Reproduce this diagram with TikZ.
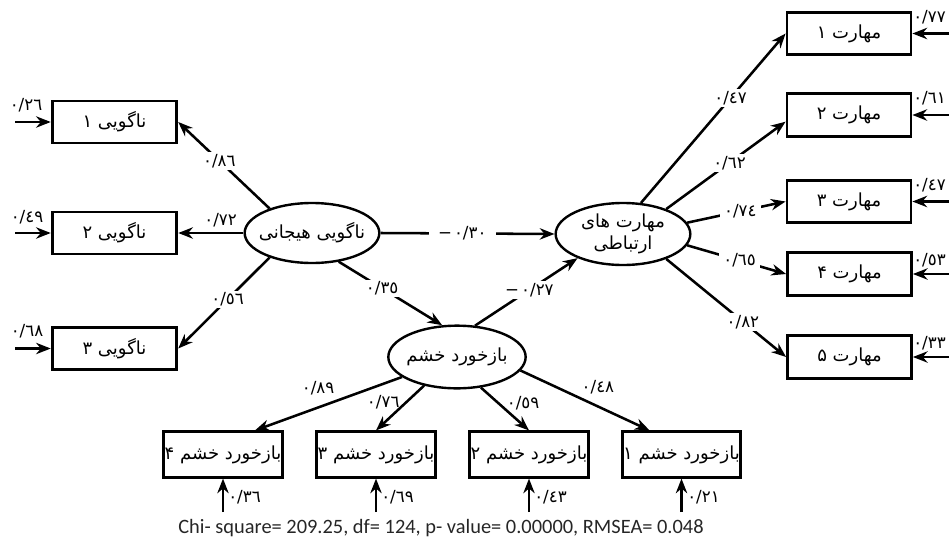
\documentclass[tikz,border=0pt]{standalone}
\usepackage{fontspec}
\setsansfont{Carlito}
\newfontfamily\arfont[Script=Arabic]{DejaVu Sans}
\TeXXeTstate=1
\usetikzlibrary{arrows.meta,shapes.geometric}
\newcommand\rtlz[1]{\makebox[0pt]{\beginR #1\endR}}
\newcommand\negnum[1]{\mbox{−}\kern1.5pt\mbox{#1}}
\begin{document}
\begin{tikzpicture}[x=0.75pt,y=-0.75pt,
  boxbase/.style={draw, line width=2.1pt, inner sep=0pt, font=\arfont\fontsize{13.5}{16}\selectfont},
  lbox/.style={boxbase, minimum width=93.5pt, minimum height=31.5pt},
  rbox/.style={boxbase, minimum width=93pt, minimum height=32pt},
  bbox/.style={boxbase, minimum width=89pt, minimum height=34pt},
  lat/.style={draw, ellipse, line width=1.8pt, inner sep=0pt, align=center, font=\arfont\fontsize{13.5}{17}\selectfont},
  arr/.style={line width=1.9pt, -{Stealth[length=11pt,width=8.5pt]}},
  lbl/.style={font=\arfont\fontsize{12.5}{14}\selectfont, inner sep=1.5pt},
  gap/.style={lbl, fill=white, inner xsep=3pt},
]
\useasboundingbox (0,0) rectangle (949,543);

% latent variables
\node[lat, minimum width=101pt, minimum height=45pt] (e1) at (312,233) {\rtlz{ناگویی هیجانی}};
\node[lat, minimum width=103pt, minimum height=47pt] (e2) at (457,357) {\rtlz{بازخورد خشم}};
\node[lat, minimum width=101pt, minimum height=46.5pt] (e3) at (623,234) {\rtlz{مهارت های}\\\rtlz{ارتباطی}};

% left indicators
\node[lbox] (n1) at (114.5,122) {\beginR ناگویی ۱\endR};
\node[lbox] (n2) at (114.5,233) {\beginR ناگویی ۲\endR};
\node[lbox] (n3) at (114.5,348.5) {\beginR ناگویی ۳\endR};

% right indicators
\node[rbox] (m1) at (849,33.5) {\beginR مهارت ۱\endR};
\node[rbox] (m2) at (849,115) {\beginR مهارت ۲\endR};
\node[rbox] (m3) at (849,201.5) {\beginR مهارت ۳\endR};
\node[rbox] (m4) at (849.5,274) {\beginR مهارت ۴\endR};
\node[rbox] (m5) at (849.5,357) {\beginR مهارت ۵\endR};

% bottom indicators
\node[bbox] (b4) at (223,454.5) {\beginR بازخورد خشم ۴\endR};
\node[bbox] (b3) at (376,454.5) {\beginR بازخورد خشم ۳\endR};
\node[bbox] (b2) at (529,454.5) {\beginR بازخورد خشم ۲\endR};
\node[bbox] (b1) at (681.5,454.5) {\beginR بازخورد خشم ۱\endR};

% loadings of e1
\draw[arr] (e1.150) -- node[gap, pos=0.55] (k1) {٠/٨٦} (n1.east);
\draw[arr] (e1.west) -- node[lbl, above=2pt, pos=0.35] (k2) {٠/٧٢} (n2.east);
\draw[arr] (e1.210) -- node[gap, pos=0.46] (k3) {٠/٥٦} (n3.east);

% structural paths
\draw[arr] (e1.east) -- node[gap, inner xsep=7pt, pos=0.47] (k4) {\negnum{٠/٣٠}} (e3.west);
\draw[arr] (e1.-47) -- node[gap, pos=0.42] (k5) {٠/٣٥} (e2.115);
\draw[arr] (e2.60) -- node[gap, inner xsep=3pt, pos=0.53] (k6) {\negnum{٠/٢٧}} (e3.208);

% loadings of e3
\draw[arr] (e3.60) -- node[gap, pos=0.62] (k7) {٠/٤٧} (m1.west);
\draw[arr] (e3.30) -- node[gap, pos=0.53] (k8) {٠/٦٢} (m2.186);
\draw[arr] (e3.10) -- node[gap, pos=0.54] (k9) {٠/٧٤} (m3.west);
\draw[arr] (e3.-10) -- node[gap, pos=0.53] (k10) {٠/٦٥} (m4.west);
\draw[arr] (e3.-30) -- node[gap, pos=0.64] (k11) {٠/٨٢} (m5.west);

% loadings of e2
\draw[arr] (e2.200) -- node[lbl, above=7pt, pos=0.57] (k12) {٠/٨٩} (b4.37);
\draw[arr] (e2.221) -- node[lbl, left=3pt, pos=0.36] (k13) {٠/٧٦} (b3.north);
\draw[arr] (e2.-52) -- node[lbl, right=4pt, pos=0.36] (k14) {٠/٥٩} (b2.north);
\draw[arr] (e2.-12) -- node[lbl, above=7pt, pos=0.6] (k15) {٠/٤٨} (b1.143);

% error terms left
\coordinate (en1) at (15,122);
\coordinate (en2) at (15,233);
\coordinate (en3) at (15,348.5);
\draw[arr] (en1) -- (n1.west);
\draw[arr] (en2) -- (n2.west);
\draw[arr] (en3) -- (n3.west);
\node[lbl] (r1) at (26,105) {٠/٢٦};
\node[lbl] (r2) at (27,217) {٠/٤٩};
\node[lbl] (r3) at (27,331) {٠/٦٨};

% error terms right
\coordinate (em1) at (949,33.5);
\coordinate (em2) at (949,115);
\coordinate (em3) at (949,201.5);
\coordinate (em4) at (949,274);
\coordinate (em5) at (949,357);
\draw[arr] (em1) -- (m1.east);
\draw[arr] (em2) -- (m2.east);
\draw[arr] (em3) -- (m3.east);
\draw[arr] (em4) -- (m4.east);
\draw[arr] (em5) -- (m5.east);
\node[lbl, anchor=east] (s1) at (948,17) {٠/٧٧};
\node[lbl, anchor=east] (s2) at (948,98) {٠/٦١};
\node[lbl, anchor=east] (s3) at (948,185) {٠/٤٧};
\node[lbl, anchor=east] (s4) at (948,260) {٠/٥٣};
\node[lbl, anchor=east] (s5) at (948,343) {٠/٣٣};

% error terms bottom
\coordinate (eb4) at (223,512);
\coordinate (eb3) at (376,512);
\coordinate (eb2) at (529,512);
\coordinate (eb1) at (681.5,512);
\draw[arr] (eb4) -- (b4.south);
\draw[arr] (eb3) -- (b3.south);
\draw[arr] (eb2) -- (b2.south);
\draw[arr] (eb1) -- (b1.south);
\node[lbl, anchor=west] (t4) at (226,497) {٠/٣٦};
\node[lbl, anchor=west] (t3) at (379,497) {٠/٦٩};
\node[lbl, anchor=west] (t2) at (532,497) {٠/٤٣};
\node[lbl, anchor=west] (t1) at (685,497) {٠/٢١};

% fit indices
\node[font=\sffamily\fontsize{15.3}{18}\selectfont, text=black!85, inner sep=0pt] (fit) at (441,528) {Chi- square= 209.25, df= 124, p- value= 0.00000, RMSEA= 0.048};
\end{tikzpicture}
\end{document}
